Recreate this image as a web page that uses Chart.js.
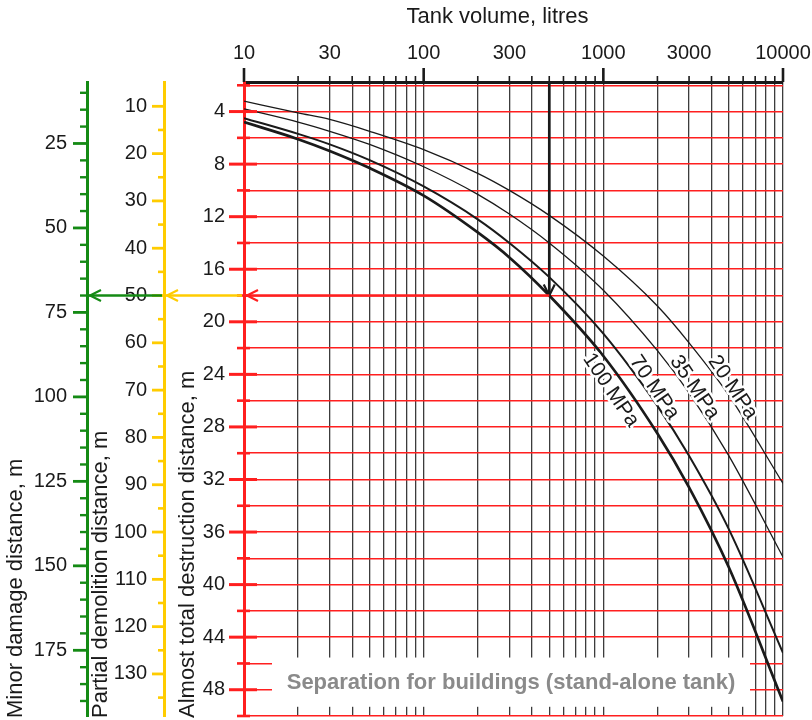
<!DOCTYPE html>
<html>
<head>
<meta charset="utf-8">
<script src="https://cdn.jsdelivr.net/npm/chart.js@4/dist/chart.umd.min.js"></script>
<style>
  html, body { margin: 0; padding: 0; background: #fff; }
</style>
</head>
<body>
<canvas id="tankChart" width="812" height="720"></canvas>
<script>
// tank volume (litres) where each curve is sampled
const volumes = [10, 20, 30, 50, 100, 200, 300, 500, 1000, 2000, 3000, 5000, 10000];

// almost total destruction distance (m) per storage pressure
const d20MPa  = [3.2, 4.1, 4.6, 5.5, 6.9, 8.7, 10.0, 11.9, 15.0, 18.8, 21.6, 25.6, 32.3];
const d35MPa  = [3.8, 4.8, 5.5, 6.5, 8.2, 10.3, 11.8, 14.0, 17.6, 22.2, 25.4, 30.2, 37.9];
const d70MPa  = [4.5, 5.7, 6.5, 7.7, 9.7, 12.2, 14.0, 16.6, 20.9, 26.4, 30.2, 35.8, 45.2];
const d100MPa = [4.8, 6.1, 7.0, 8.3, 10.4, 13.2, 15.1, 18.0, 22.6, 28.5, 32.6, 38.7, 48.9];
const pressureNames = ['20 MPa', '35 MPa', '70 MPa', '100 MPa'];

// worked example: 500 l tank at 100 MPa
const exampleVolume = 500;
const exampleDistance = 18.0;

// the three distance scales are proportional: 18 m -> 50 m -> 70 m
const partialPerTotal = 50 / 18;
const minorPerTotal = 70 / 18;

// axis ticks
const volumeTicks = [10, 20, 30, 40, 50, 60, 70, 80, 90,
  100, 200, 300, 400, 500, 600, 700, 800, 900,
  1000, 2000, 3000, 4000, 5000, 6000, 7000, 8000, 9000, 10000];
const volumeDecades = [10, 100, 1000, 10000];
const volumeLabels = [10, 30, 100, 300, 1000, 3000, 10000];
const totalMajor = [4, 8, 12, 16, 20, 24, 28, 32, 36, 40, 44, 48];
const totalMinor = [2, 6, 10, 14, 18, 22, 26, 30, 34, 38, 42, 46, 50];
const partialMajor = [10, 20, 30, 40, 50, 60, 70, 80, 90, 100, 110, 120, 130];
const partialMinor = [15, 25, 35, 45, 55, 65, 75, 85, 95, 105, 115, 125, 135];
const minorMajor = [25, 50, 75, 100, 125, 150, 175];
const minorMinor = [10, 15, 20, 30, 35, 40, 45, 55, 60, 65, 70, 80, 85, 90, 95,
  105, 110, 115, 120, 130, 135, 140, 145, 155, 160, 165, 170, 180, 185, 190];

const totalRange = [1.75, 50];

const FONT = '"Liberation Sans", Arial, sans-serif';
const RED = '#ff1f1f';
const YELLOW = '#ffcc00';
const GREEN = '#148a14';
const INK = '#1a1a1a';

const tickFont = { family: FONT, size: 20 };

const series = [d20MPa, d35MPa, d70MPa, d100MPa];
const lineWidths = [1.3, 1.3, 2, 2.7];

// where the pressure names sit (centre, in data units) and their slant
const curveLabelPos = [
  { volume: 5250, dist: 25.0 },
  { volume: 3220, dist: 25.0 },
  { volume: 1920, dist: 25.0 },
  { volume: 1100, dist: 25.2 }
];
const curveLabelAngle = 56;

function asTicks(values) {
  return scale => { scale.ticks = values.slice().sort((a, b) => a - b).map(v => ({ value: v })); };
}

function line(ctx, x1, y1, x2, y2, color, width) {
  ctx.beginPath();
  ctx.moveTo(x1, y1);
  ctx.lineTo(x2, y2);
  ctx.strokeStyle = color;
  ctx.lineWidth = width;
  ctx.stroke();
}

// open "V" arrow head, dx/dy is the pointing direction
function head(ctx, x, y, dx, dy, color) {
  const len = 11, spread = 5.5;
  const px = -dy, py = dx;
  ctx.beginPath();
  ctx.moveTo(x - dx * len + px * spread, y - dy * len + py * spread);
  ctx.lineTo(x, y);
  ctx.lineTo(x - dx * len - px * spread, y - dy * len - py * spread);
  ctx.strokeStyle = color;
  ctx.lineWidth = 2.2;
  ctx.stroke();
}

// tick marks on a left-hand axis: out = length to the left, inside = into the plot
function yMarks(ctx, scale, values, out, inside, width, color) {
  values.forEach(v => {
    const y = scale.getPixelForValue(v);
    line(ctx, scale.right - out, y, scale.right + inside, y, color, width);
  });
}

// axis name written bottom-to-top, starting at the foot of the plot
function sideTitle(ctx, text, x, y) {
  ctx.save();
  ctx.translate(x, y);
  ctx.rotate(-Math.PI / 2);
  ctx.textAlign = 'left';
  ctx.textBaseline = 'middle';
  ctx.fillText(text, 0, 0);
  ctx.restore();
}

const decorations = {
  id: 'decorations',
  beforeDatasetsDraw(chart) {
    // blank band for the note at the foot of the plot
    const { ctx, chartArea: a, scales } = chart;
    const top = scales.y.getPixelForValue(45.55);
    const bottom = scales.y.getPixelForValue(49.3);
    const left = a.left + 28, right = a.right - 33;
    ctx.save();
    ctx.fillStyle = '#fff';
    ctx.fillRect(left, top, right - left, bottom - top);
    ctx.fillStyle = '#8a8a8a';
    ctx.font = 'bold 22px ' + FONT;
    ctx.textAlign = 'center';
    ctx.textBaseline = 'middle';
    ctx.fillText('Separation for buildings (stand-alone tank)', (left + right) / 2, (top + bottom) / 2 + 1);
    ctx.restore();
  },
  afterDatasetsDraw(chart) {
    const { ctx, scales } = chart;
    ctx.save();
    ctx.font = '21px ' + FONT;
    ctx.textAlign = 'center';
    ctx.textBaseline = 'middle';
    ctx.lineJoin = 'round';
    pressureNames.forEach((name, i) => {
      const p = curveLabelPos[i];
      ctx.save();
      ctx.translate(scales.x.getPixelForValue(p.volume), scales.y.getPixelForValue(p.dist));
      ctx.rotate(curveLabelAngle * Math.PI / 180);
      ctx.strokeStyle = '#fff';
      ctx.lineWidth = 5;
      ctx.strokeText(name, 0, 0);
      ctx.fillStyle = INK;
      ctx.fillText(name, 0, 0);
      ctx.restore();
    });
    ctx.restore();
  },
  afterDraw(chart) {
    const { ctx, chartArea: a, scales } = chart;
    const xs = scales.x, ys = scales.y, yp = scales.yPartial, ym = scales.yMinor;
    ctx.save();
    ctx.lineCap = 'butt';

    // axis names
    ctx.fillStyle = INK;
    ctx.font = '22px ' + FONT;
    ctx.textAlign = 'center';
    ctx.textBaseline = 'middle';
    ctx.fillText('Tank volume, litres', (a.left + a.right) / 2 - 16, 17);
    sideTitle(ctx, 'Minor damage distance, m', ym.left + 16, a.bottom + 2);
    sideTitle(ctx, 'Partial demolition distance, m', yp.left + 14, a.bottom + 2);
    sideTitle(ctx, 'Almost total destruction distance, m', ys.left + 24, a.bottom + 2);

    // volume ticks above the top axis
    volumeTicks.forEach(v => {
      const x = xs.getPixelForValue(v);
      const major = volumeDecades.includes(v);
      line(ctx, x, xs.bottom - (major ? 14 : 6), x, xs.bottom, INK, major ? 2.6 : 1.6);
    });

    yMarks(ctx, ys, totalMajor, 15, 13, 3, RED);
    yMarks(ctx, ys, totalMinor, 7, 6, 2.6, RED);
    yMarks(ctx, yp, partialMajor, 12, 0, 2.8, YELLOW);
    yMarks(ctx, yp, partialMinor, 6, 0, 2.6, YELLOW);
    yMarks(ctx, ym, minorMajor, 14, 0, 2.8, GREEN);
    yMarks(ctx, ym, minorMinor, 7, 0, 2.4, GREEN);

    // worked example: down to the curve, then across all three distance scales
    const ax = xs.getPixelForValue(exampleVolume);
    const ay = ys.getPixelForValue(exampleDistance);
    line(ctx, ax, a.top, ax, ay, INK, 2.6);
    head(ctx, ax, ay, 0, 1, INK);
    line(ctx, ax, ay, ys.right + 2, ay, RED, 2.6);
    head(ctx, ys.right + 3, ay, -1, 0, RED);
    line(ctx, ys.right - 2, ay, yp.right + 2, ay, YELLOW, 2.6);
    head(ctx, yp.right + 3, ay, -1, 0, YELLOW);
    line(ctx, yp.right - 2, ay, ym.right + 2, ay, GREEN, 2.6);
    head(ctx, ym.right + 3, ay, -1, 0, GREEN);
    ctx.restore();
  }
};

function distanceAxis(opts) {
  return {
    type: 'linear',
    display: true,
    position: 'left',
    reverse: true,
    weight: opts.weight,
    min: totalRange[0] * opts.factor,
    max: totalRange[1] * opts.factor,
    afterBuildTicks: asTicks(opts.major.concat(opts.minor)),
    afterFit: scale => {
      scale.width = opts.width;
      scale.paddingTop = 0;
      scale.paddingBottom = 0;
    },
    grid: opts.grid,
    border: { display: true, color: opts.color, width: 3 },
    ticks: {
      autoSkip: false,
      padding: opts.padding,
      color: INK,
      font: tickFont,
      callback: v => opts.major.includes(v) ? String(v) : ''
    },
    title: { display: false }
  };
}

new Chart(document.getElementById('tankChart'), {
  type: 'line',
  data: {
    datasets: series.map((d, i) => ({
      label: pressureNames[i],
      data: volumes.map((v, j) => ({ x: v, y: d[j] })),
      borderColor: INK,
      borderWidth: lineWidths[i],
      pointRadius: 0,
      fill: false,
      cubicInterpolationMode: 'monotone',
      xAxisID: 'x',
      yAxisID: 'y'
    }))
  },
  options: {
    responsive: false,
    animation: false,
    devicePixelRatio: 1,
    layout: { padding: { top: 0, right: 29, bottom: 4, left: 0 } },
    plugins: { legend: { display: false }, tooltip: { enabled: false } },
    scales: {
      x: {
        type: 'logarithmic',
        position: 'top',
        min: 10,
        max: 10000,
        afterBuildTicks: asTicks(volumeTicks),
        afterFit: scale => {
          scale.height = 82;
          scale.paddingLeft = 0;
          scale.paddingRight = 0;
        },
        grid: { color: '#3c3c3c', lineWidth: 1.3, drawTicks: false },
        border: { color: INK, width: 3 },
        ticks: {
          autoSkip: false,
          maxRotation: 0,
          padding: 17,
          color: INK,
          font: tickFont,
          callback: v => volumeLabels.includes(v) ? String(v) : ''
        },
        title: { display: false }
      },
      y: distanceAxis({
        weight: 0, factor: 1, width: 80, color: RED, padding: 19,
        major: totalMajor, minor: totalMinor,
        grid: { color: RED, lineWidth: 1.5, drawTicks: false }
      }),
      yPartial: distanceAxis({
        weight: 1, factor: partialPerTotal, width: 77, color: YELLOW, padding: 17,
        major: partialMajor, minor: partialMinor,
        grid: { display: false, drawTicks: false }
      }),
      yMinor: distanceAxis({
        weight: 2, factor: minorPerTotal, width: 87, color: GREEN, padding: 20,
        major: minorMajor, minor: minorMinor,
        grid: { display: false, drawTicks: false }
      })
    }
  },
  plugins: [decorations]
});
</script>
</body>
</html>
